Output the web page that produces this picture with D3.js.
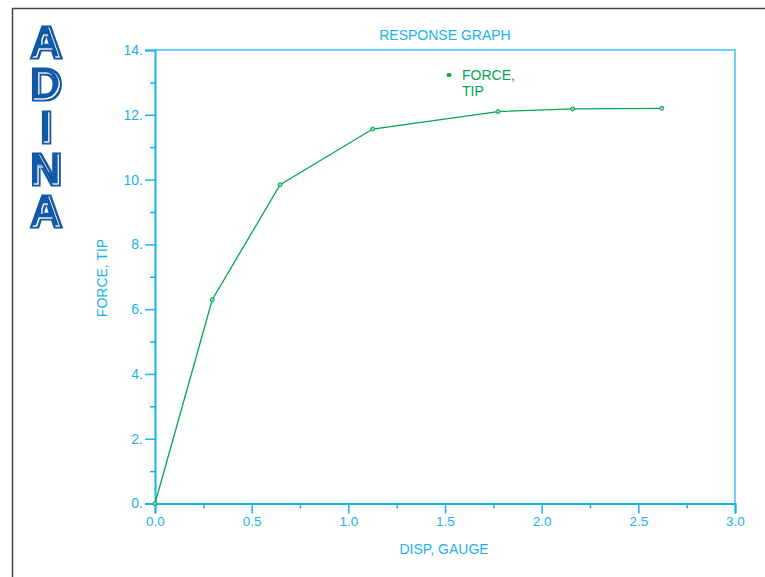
<!DOCTYPE html>
<html>
<head>
<meta charset="utf-8">
<script src="https://cdn.jsdelivr.net/npm/d3@7"></script>
<style>
  body { margin: 0; background: #fff; }
  svg { display: block; }
  text { font-family: "Liberation Sans", Arial, sans-serif; }
</style>
</head>
<body>
<div class="container"></div>
<script>
// response data
var dispGauge = [0.0, 0.296, 0.647, 1.126, 1.774, 2.160, 2.621];
var forceTip  = [0.0, 6.29, 9.84, 11.56, 12.10, 12.18, 12.20];
var xMajor = [0, 0.5, 1.0, 1.5, 2.0, 2.5, 3.0];
var xMinor = [0.25, 0.75, 1.25, 1.75, 2.25, 2.75];
var yMajor = [0, 2, 4, 6, 8, 10, 12, 14];
var yMinor = [1, 3, 5, 7, 9, 11, 13];
var logoLetters = ["A", "D", "I", "N", "A"];

var width = 765, height = 577;
var margin = {top: 50, right: 30, bottom: 73, left: 155};

var blue = "#1ab2ee", green = "#00a651", logoBlue = "#0b5aa8";

var svg = d3.select("div.container").append("svg")
    .attr("width", width)
    .attr("height", height);

// thin white inline stripe for the logo letters
var flt = svg.append("defs").append("filter")
    .attr("id", "inline")
    .attr("x", "-20%").attr("y", "-5%")
    .attr("width", "140%").attr("height", "110%");
flt.append("feMorphology").attr("in", "SourceAlpha").attr("operator", "erode")
    .attr("radius", 2.4).attr("result", "e1");
flt.append("feOffset").attr("in", "e1").attr("dx", -1.4).attr("dy", -1.0).attr("result", "e1o");
flt.append("feComposite").attr("in", "e1").attr("in2", "e1o").attr("operator", "out").attr("result", "ring");
flt.append("feFlood").attr("flood-color", "#fff").attr("result", "white");
flt.append("feComposite").attr("in", "white").attr("in2", "ring").attr("operator", "in").attr("result", "wring");
var mrg = flt.append("feMerge");
mrg.append("feMergeNode").attr("in", "SourceGraphic");
mrg.append("feMergeNode").attr("in", "wring");

// outer frame (top + left only)
svg.append("path")
    .attr("d", "M12.5," + height + "V8.5H" + width)
    .attr("fill", "none")
    .attr("stroke", "#444")
    .attr("stroke-width", 1.5);

// ADINA logo, heavy letters stacked vertically
svg.append("text")
    .attr("text-anchor", "middle")
    .attr("font-size", 44)
    .attr("font-weight", "bold")
    .attr("fill", logoBlue)
    .attr("stroke", logoBlue)
    .attr("stroke-width", 3)
    .attr("stroke-linejoin", "miter")
    .attr("filter", "url(#inline)")
    .selectAll("tspan")
    .data(logoLetters)
    .enter().append("tspan")
    .attr("x", 46.5)
    .attr("y", function(d, i) { return 58 + i * 42.3; })
    .text(function(d) { return d; });

var x = d3.scaleLinear().domain([0, 3]).range([margin.left, width - margin.right]);
var y = d3.scaleLinear().domain([0, 14]).range([height - margin.bottom - 0.5, margin.top]);

// plot box top and right edges
svg.append("path")
    .attr("d", "M" + x(0) + "," + y(14) + "H" + x(3) + "V" + y(0))
    .attr("fill", "none")
    .attr("stroke", "#6fd0f6")
    .attr("stroke-width", 2);

// x axis
svg.append("g")
    .attr("class", "xaxis")
    .attr("transform", "translate(0," + y(0) + ")")
    .call(d3.axisBottom(x).tickValues(xMajor).tickSize(10).tickPadding(3)
        .tickFormat(d3.format(".1f")));
svg.append("g")
    .attr("transform", "translate(0," + y(0) + ")")
    .call(d3.axisBottom(x).tickValues(xMinor).tickSize(5).tickFormat(""))
    .select(".domain").remove();

// y axis
svg.append("g")
    .attr("class", "yaxis")
    .attr("transform", "translate(" + x(0) + ",0)")
    .call(d3.axisLeft(y).tickValues(yMajor).tickSize(10).tickPadding(2)
        .tickFormat(function(d) { return d + "."; }));
svg.append("g")
    .attr("transform", "translate(" + x(0) + ",0)")
    .call(d3.axisLeft(y).tickValues(yMinor).tickSize(5).tickFormat(""))
    .select(".domain").remove();

svg.selectAll(".tick line, .domain")
    .attr("stroke", blue)
    .attr("stroke-width", 1.5);
svg.selectAll(".domain").attr("stroke-width", 2);
svg.selectAll(".tick text")
    .attr("fill", blue)
    .attr("font-size", 14)
    .style("font-family", "Liberation Sans, Arial, sans-serif");
svg.selectAll(".xaxis .tick text").attr("font-size", 13.5);

// titles
svg.append("text")
    .attr("x", 445).attr("y", 40)
    .attr("text-anchor", "middle")
    .attr("font-size", 14)
    .attr("fill", blue)
    .text("RESPONSE GRAPH");

svg.append("text")
    .attr("x", 444).attr("y", 554)
    .attr("text-anchor", "middle")
    .attr("font-size", 14)
    .attr("fill", blue)
    .text("DISP, GAUGE");

svg.append("text")
    .attr("transform", "translate(107,278) rotate(-90)")
    .attr("text-anchor", "middle")
    .attr("font-size", 14)
    .attr("fill", blue)
    .text("FORCE, TIP");

// data line
var pts = dispGauge.map(function(d, i) { return [d, forceTip[i]]; });
svg.append("path")
    .datum(pts)
    .attr("d", d3.line().x(function(d) { return x(d[0]); }).y(function(d) { return y(d[1]); }))
    .attr("fill", "none")
    .attr("stroke", green)
    .attr("stroke-width", 1.3);

svg.selectAll(".pt")
    .data(pts)
    .enter().append("circle")
    .attr("class", "pt")
    .attr("cx", function(d) { return x(d[0]); })
    .attr("cy", function(d) { return y(d[1]); })
    .attr("r", 2)
    .attr("fill", "#8fd6aa")
    .attr("stroke", green)
    .attr("stroke-width", 1);

// legend
svg.append("ellipse")
    .attr("cx", 449).attr("cy", 75)
    .attr("rx", 2.6).attr("ry", 2)
    .attr("fill", green);
svg.append("text")
    .attr("x", 462).attr("y", 80)
    .attr("font-size", 14)
    .attr("fill", green)
    .text("FORCE,");
svg.append("text")
    .attr("x", 462).attr("y", 96)
    .attr("font-size", 14)
    .attr("fill", green)
    .text("TIP");
</script>
</body>
</html>
